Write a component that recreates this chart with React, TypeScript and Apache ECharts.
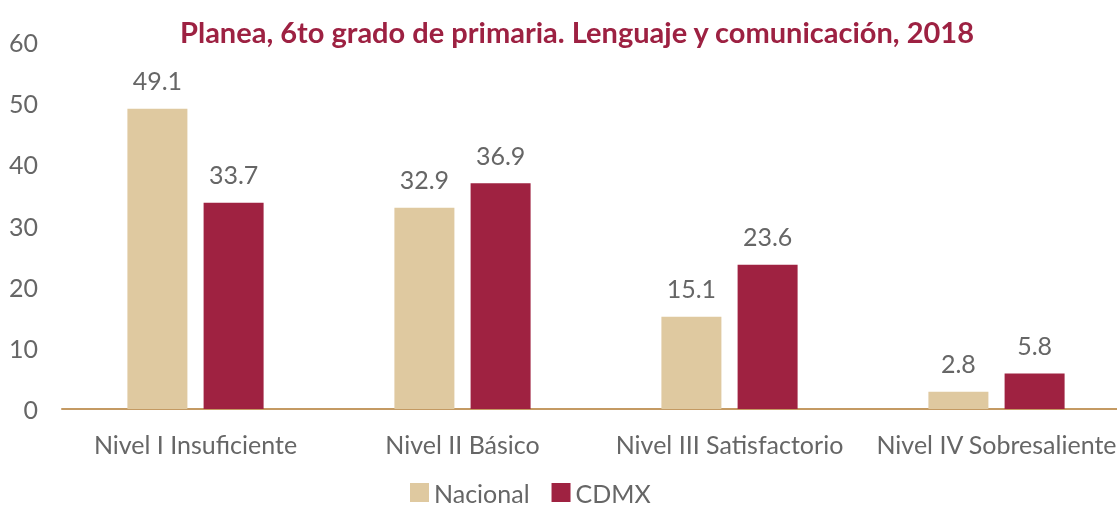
import React, { useEffect, useRef } from "react";
import * as echarts from "echarts";

const categories = ["Nivel I Insuficiente", "Nivel II Básico", "Nivel III Satisfactorio", "Nivel IV Sobresaliente"];
const nacional = [49.1, 32.9, 15.1, 2.8];
const cdmx = [33.7, 36.9, 23.6, 5.8];
const titleText = "Planea, 6to grado de primaria. Lenguaje y comunicación, 2018";

const FONT = "Lato, 'Noto Sans', sans-serif";

export default function App() {
  const ref = useRef<HTMLDivElement>(null);
  useEffect(() => {
    if (!ref.current) return;
    const chart = echarts.init(ref.current, null, { renderer: "svg" });
    const labelStyle = {
      show: true,
      position: "top" as const,
      distance: 16,
      color: "#666666",
      fontSize: 25,
      fontFamily: FONT,
      formatter: (p: any) => p.value.toFixed(1),
    };
    chart.setOption({
      animation: false,
      textStyle: { fontFamily: FONT },
      title: {
        text: titleText,
        left: 572,
        textAlign: "center",
        top: 12,
        textStyle: { color: "#9d2142", fontSize: 29, fontWeight: "bold", fontFamily: FONT },
      },
      legend: {
        bottom: -4,
        left: 405,
        itemWidth: 19,
        itemHeight: 19,
        itemGap: 22,
        icon: "rect",
        textStyle: { color: "#666666", fontSize: 25, fontFamily: FONT },
        data: ["Nacional", "CDMX"],
      },
      grid: { left: 62, top: 42, right: 0, bottom: 97, containLabel: false },
      xAxis: {
        type: "category",
        data: categories,
        axisLine: { show: true, lineStyle: { color: "#c49a63", width: 2 } },
        axisTick: { show: false },
        axisLabel: { color: "#666666", fontSize: 25, fontFamily: FONT, margin: 22, interval: 0 },
      },
      yAxis: {
        type: "value",
        min: 0,
        max: 60,
        interval: 10,
        splitLine: { show: false },
        axisLine: { show: false },
        axisTick: { show: false },
        axisLabel: { color: "#666666", fontSize: 25, fontFamily: FONT, margin: 24 },
      },
      series: [
        {
          name: "Nacional",
          type: "bar",
          data: nacional,
          barWidth: 60,
          barGap: "27%",
          itemStyle: { color: "#dfc9a0" },
          label: labelStyle,
        },
        {
          name: "CDMX",
          type: "bar",
          data: cdmx,
          barWidth: 60,
          barGap: "27%",
          itemStyle: { color: "#9f2241" },
          label: labelStyle,
        },
      ],
    });
    return () => chart.dispose();
  }, []);
  return (
    <div style={{ position: "fixed", left: 0, top: 0, width: 1117, height: 506, overflow: "hidden" }}>
      <div ref={ref} style={{ width: 1130, height: 506 }} />
    </div>
  );
}
